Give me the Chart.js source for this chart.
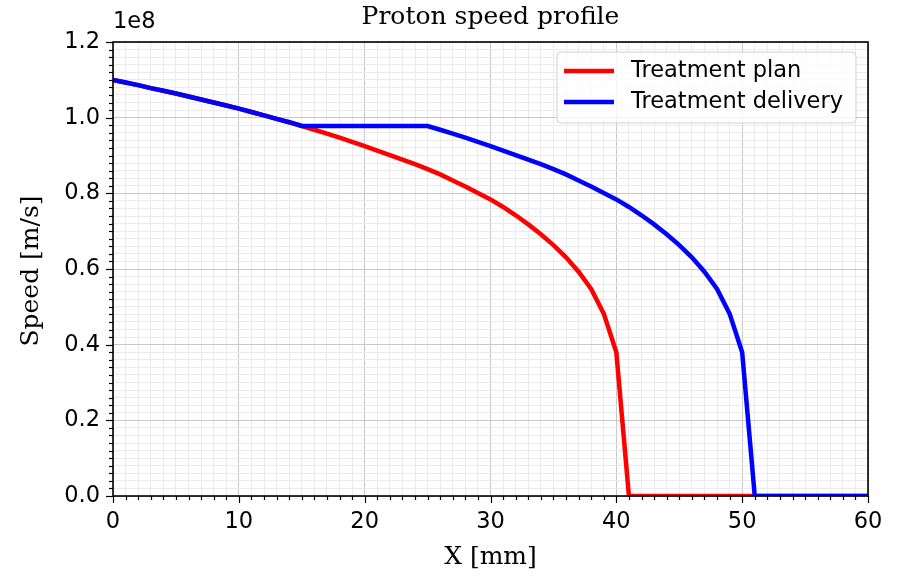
<!DOCTYPE html>
<html>
<head>
<meta charset="utf-8">
<title>Proton speed profile</title>
<script src="https://cdn.jsdelivr.net/npm/chart.js@4/dist/chart.umd.min.js"></script>
<style>
  html, body { margin: 0; padding: 0; background: #fff; }
  #wrap { width: 904px; height: 577px; }
</style>
</head>
<body>
<div id="wrap"><canvas id="myChart" width="904" height="577"></canvas></div>
<script>
// x positions in mm
var depthMm = [];
for (var i = 0; i <= 60; i++) depthMm.push(i);

// speeds in units of 1e8 m/s
var speedPlan = [
  1.100, 1.093, 1.086, 1.078, 1.071, 1.064, 1.056, 1.048, 1.040, 1.032,
  1.024, 1.015, 1.006, 0.997, 0.988, 0.978, 0.968, 0.958, 0.947, 0.936,
  0.925, 0.913, 0.901, 0.889, 0.877, 0.864, 0.850, 0.834, 0.818, 0.801,
  0.784, 0.764, 0.742, 0.718, 0.692, 0.663, 0.631, 0.593, 0.547, 0.482,
  0.380, 0, 0, 0, 0, 0, 0, 0, 0, 0,
  0, 0, 0, 0, 0, 0, 0, 0, 0, 0,
  0
];
var speedDelivery = [
  1.100, 1.093, 1.086, 1.078, 1.071, 1.064, 1.056, 1.048, 1.040, 1.032,
  1.024, 1.015, 1.006, 0.997, 0.988, 0.978, 0.978, 0.978, 0.978, 0.978,
  0.978, 0.978, 0.978, 0.978, 0.978, 0.978, 0.968, 0.958, 0.947, 0.936,
  0.925, 0.913, 0.901, 0.889, 0.877, 0.864, 0.850, 0.834, 0.818, 0.801,
  0.784, 0.764, 0.742, 0.718, 0.692, 0.663, 0.631, 0.593, 0.547, 0.482,
  0.380, 0, 0, 0, 0, 0, 0, 0, 0, 0,
  0
];
var seriesNames = ['Treatment plan', 'Treatment delivery'];
var seriesColors = ['#ff0000', '#0000ff'];
var xTickLabels = ['0', '10', '20', '30', '40', '50', '60'];
var yTickLabels = ['0.0', '0.2', '0.4', '0.6', '0.8', '1.0', '1.2'];

var sansFont = '"DejaVu Sans", sans-serif';
var serifFont = '"DejaVu Serif", serif';

function isMajorX(v) { return Math.abs(v / 10 - Math.round(v / 10)) < 1e-6; }
function isMajorY(v) { return Math.abs(v * 5 - Math.round(v * 5)) < 1e-6; }

function toPoints(xs, ys) {
  var pts = [];
  for (var k = 0; k < xs.length; k++) pts.push({x: xs[k], y: ys[k]});
  return pts;
}

var decorPlugin = {
  id: 'decor',
  afterDraw: function(chart) {
    var ctx = chart.ctx;
    var area = chart.chartArea;
    var xs = chart.scales.x, ys = chart.scales.y;
    ctx.save();

    // tick marks
    ctx.strokeStyle = '#000';
    ctx.lineWidth = 1.2;
    xs.ticks.forEach(function(t) {
      var px = Math.round(xs.getPixelForValue(t.value)) + 0.5;
      var len = isMajorX(t.value) ? 7 : 4;
      ctx.beginPath();
      ctx.moveTo(px, area.bottom);
      ctx.lineTo(px, area.bottom + len);
      ctx.stroke();
    });
    ys.ticks.forEach(function(t) {
      var py = Math.round(ys.getPixelForValue(t.value)) + 0.5;
      var len = isMajorY(t.value) ? 7 : 4;
      ctx.beginPath();
      ctx.moveTo(area.left, py);
      ctx.lineTo(area.left - len, py);
      ctx.stroke();
    });

    // spines
    ctx.lineWidth = 1.6;
    ctx.strokeRect(area.left, area.top, area.right - area.left, area.bottom - area.top);

    // title, offset text and axis labels
    ctx.fillStyle = '#000';
    ctx.textBaseline = 'middle';
    ctx.textAlign = 'center';
    ctx.font = '25px ' + serifFont;
    ctx.fillText('Proton speed profile', (area.left + area.right) / 2, 17);
    ctx.fillText('X [mm]', (area.left + area.right) / 2, 557);
    ctx.save();
    ctx.translate(31, (area.top + area.bottom) / 2 + 2);
    ctx.rotate(-Math.PI / 2);
    ctx.fillText('Speed [m/s]', 0, 0);
    ctx.restore();
    ctx.textAlign = 'left';
    ctx.font = '22.5px ' + sansFont;
    ctx.fillText('1e8', area.left, 22);

    // legend
    var lx = 557, ly = 52, lw = 299, lh = 71;
    ctx.beginPath();
    ctx.roundRect(lx, ly, lw, lh, 4);
    ctx.fillStyle = 'rgba(255,255,255,0.8)';
    ctx.fill();
    ctx.strokeStyle = '#d0d0d0';
    ctx.lineWidth = 1;
    ctx.stroke();
    chart.data.datasets.forEach(function(ds, k) {
      var yy = ly + 19 + k * 31;
      ctx.strokeStyle = ds.borderColor;
      ctx.lineWidth = 4.5;
      ctx.beginPath();
      ctx.moveTo(lx + 7, yy);
      ctx.lineTo(lx + 57, yy);
      ctx.stroke();
      ctx.fillStyle = '#000';
      ctx.font = '22.5px ' + sansFont;
      ctx.fillText(ds.label, lx + 74, yy);
    });
    ctx.restore();
  }
};

var newChart = document.getElementById('myChart').getContext('2d');
window.speedChart = new Chart(newChart, {
  type: 'line',
  data: {
    datasets: [
      {
        label: seriesNames[0],
        data: toPoints(depthMm, speedPlan),
        borderColor: seriesColors[0],
        borderWidth: 4.5,
        pointRadius: 0,
        tension: 0,
        order: 1
      },
      {
        label: seriesNames[1],
        data: toPoints(depthMm, speedDelivery),
        borderColor: seriesColors[1],
        borderWidth: 4.5,
        pointRadius: 0,
        tension: 0,
        order: 0
      }
    ]
  },
  options: {
    responsive: false,
    animation: false,
    layout: { padding: { top: 42, right: 36, left: 0, bottom: 0 } },
    plugins: {
      legend: { display: false },
      title: { display: false },
      tooltip: { enabled: false }
    },
    scales: {
      x: {
        type: 'linear',
        min: 0,
        max: 60,
        afterFit: function(scale) { scale.height = 81; },
        border: { display: false },
        grid: {
          drawTicks: false,
          color: function(c) { return isMajorX(c.tick.value) ? '#c8c8c8' : '#ebebeb'; },
          lineWidth: 1
        },
        ticks: {
          stepSize: 1,
          autoSkip: false,
          maxRotation: 0,
          padding: 13,
          color: '#000',
          font: { family: sansFont, size: 22.5 },
          callback: function(v) {
            return isMajorX(v) ? xTickLabels[Math.round(v / 10)] : '';
          }
        }
      },
      y: {
        type: 'linear',
        min: 0,
        max: 1.2,
        afterFit: function(scale) { scale.width = 113; },
        border: { display: false },
        grid: {
          drawTicks: false,
          color: function(c) { return isMajorY(c.tick.value) ? '#c8c8c8' : '#ebebeb'; },
          lineWidth: 1
        },
        ticks: {
          stepSize: 0.02,
          autoSkip: false,
          padding: 13,
          color: '#000',
          font: { family: sansFont, size: 22.5 },
          callback: function(v) {
            return isMajorY(v) ? yTickLabels[Math.round(v * 5)] : '';
          }
        }
      }
    }
  },
  plugins: [decorPlugin]
});
</script>
</body>
</html>
